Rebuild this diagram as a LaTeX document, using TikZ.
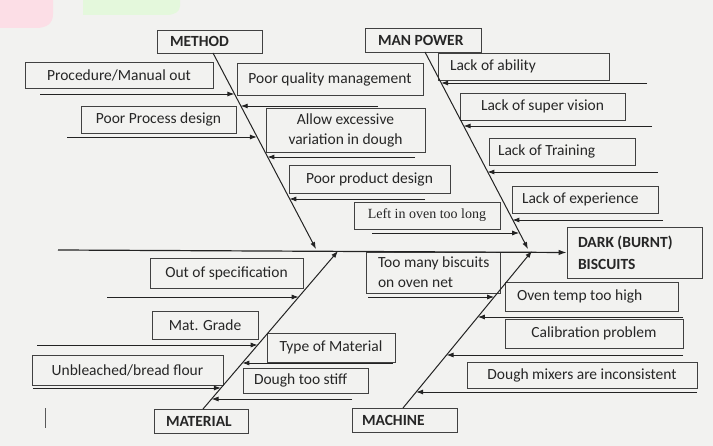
\documentclass[tikz,border=0pt]{standalone}
\usepackage{fontspec}
\setmainfont{Carlito}
\newfontfamily\serifnote{Liberation Serif}
\usetikzlibrary{arrows.meta}
\definecolor{paper}{RGB}{242,242,240}
\definecolor{inkline}{RGB}{35,35,35}
\definecolor{boxline}{RGB}{65,65,65}
\definecolor{pinkblob}{RGB}{252,222,230}
\definecolor{greenblob}{RGB}{228,248,220}
\begin{document}
\begin{tikzpicture}[x=1pt,y=-1pt,
  font=\fontsize{15.5}{20}\selectfont,
  cbox/.style={draw=boxline, line width=0.8pt, inner sep=0pt, align=center, text=black!85},
  lbox/.style={cbox, align=flush left},
  catbox/.style={cbox, align=flush left, font=\fontsize{15.5}{20}\selectfont\bfseries},
  bone/.style={draw=inkline, line width=1pt, -{Latex[length=7pt,width=5pt]}},
  cause/.style={draw=inkline, line width=0.9pt, -{Latex[length=7pt,width=5pt]}}]

% paper and margins
\fill[paper] (0,0) rectangle (713,446);
\useasboundingbox (0,0) rectangle (713,446);
\fill[pinkblob] (0,0) -- (53,0) -- (53,14) .. controls (53,24) and (46,28) .. (36,28) -- (0,28) -- cycle;
\fill[greenblob] (83,0) -- (180,0) -- (180,6) .. controls (180,12) and (174,15) .. (166,15) -- (83,15) -- cycle;

% category heads
\node[catbox, minimum width=105, minimum height=23, inner xsep=13pt, text width=79pt] (method) at (209.5,41.5) {METHOD};
\node[catbox, minimum width=116, minimum height=24, inner xsep=13pt, text width=90pt] (manpower) at (423,40) {MAN POWER};
\node[catbox, minimum width=94, minimum height=24, inner xsep=12pt, text width=70pt] (material) at (201,421) {MATERIAL};
\node[catbox, minimum width=105, minimum height=24, inner xsep=10pt, text width=85pt] (machine) at (404.5,420) {MACHINE};

% effect
\node[catbox, minimum width=135, minimum height=51, inner xsep=11pt, text width=113pt,
      font=\fontsize{15.5}{22}\selectfont\bfseries] (effect) at (634.5,252.5) {DARK (BURNT)\\BISCUITS};

% causes: method
\node[cbox, minimum width=188, minimum height=26] (proc) at (119,75) {Procedure/Manual out};
\node[cbox, minimum width=186, minimum height=32] (pqm) at (330,79) {Poor quality management};
\node[cbox, minimum width=155, minimum height=27] (ppd) at (158.5,119.5) {Poor Process design};
\node[cbox, minimum width=159, minimum height=44] (allow) at (345.5,130) {Allow excessive\\variation in dough};
\node[cbox, minimum width=161, minimum height=28] (prod) at (369.5,179) {Poor product design};
\node[cbox, minimum width=146, minimum height=27, font=\fontsize{14}{16}\serifnote] (oven) at (427,215.5) {Left in oven too long};

% causes: man power
\node[lbox, minimum width=171, minimum height=27, inner xsep=12pt, text width=147pt] (ability) at (523.5,66.5) {Lack of ability};
\node[cbox, minimum width=165, minimum height=27] (superv) at (542.5,106.5) {Lack of super vision};
\node[lbox, minimum width=146, minimum height=27, inner xsep=9pt, text width=128pt] (training) at (562,151.5) {Lack of Training};
\node[lbox, minimum width=146, minimum height=27, inner xsep=10pt, text width=126pt] (exper) at (585,199.5) {Lack of experience};

% causes: material
\node[cbox, minimum width=153, minimum height=30] (outspec) at (226.5,273) {Out of specification};
\node[cbox, minimum width=106, minimum height=28] (matgrade) at (205,325) {Mat. Grade};
\node[cbox, minimum width=128, minimum height=29] (typemat) at (331,347.5) {Type of Material};
\node[cbox, minimum width=191, minimum height=30] (unbl) at (127.5,370) {Unbleached/bread flour};
\node[lbox, minimum width=125, minimum height=25, inner xsep=11pt, text width=103pt] (stiff) at (305.5,380.5) {Dough too stiff};

% causes: machine
\node[lbox, minimum width=134, minimum height=41, inner xsep=12pt, text width=110pt] (many) at (433,272.5) {\mbox{Too many biscuits}\\on oven net};
\node[lbox, minimum width=173, minimum height=29, inner xsep=12pt, text width=149pt] (otemp) at (591.5,296.5) {Oven temp too high};
\node[cbox, minimum width=178, minimum height=29] (calib) at (594,333.5) {Calibration problem};
\node[cbox, minimum width=230, minimum height=26] (mixers) at (582,375) {Dough mixers are inconsistent};

% spine
\coordinate (tail) at (58,250);
\draw[draw=inkline, line width=1.2pt, -{Latex[length=8pt,width=5.5pt]}] (tail) -- (effect.west);

% bones
\coordinate (mA) at (213,53);   \coordinate (mB) at (316,249);
\coordinate (pA) at (425,52);   \coordinate (pB) at (528,249);
\coordinate (tA) at (203,409);  \coordinate (tB) at (338,251);
\coordinate (cA) at (403,408);  \coordinate (cB) at (532,251);
\draw[bone] (mA) -- (mB);
\draw[bone] (pA) -- (pB);
\draw[bone] (tA) -- (tB);
\draw[bone] (cA) -- (cB);

% cause arrows: method
\coordinate (s1) at (40,94);   \coordinate (e1) at (234.4,94);
\coordinate (s2) at (378,106); \coordinate (e2) at (240.7,106);
\coordinate (s3) at (67,137);  \coordinate (e3) at (256.9,137);
\coordinate (s4) at (415,157); \coordinate (e4) at (267.4,157);
\coordinate (s5) at (425,199); \coordinate (e5) at (289.3,199);
% cause arrows: man power
\coordinate (s6) at (647,83);  \coordinate (e6) at (441.1,83);
\coordinate (s7) at (652,126); \coordinate (e7) at (463.5,126);
\coordinate (s8) at (658,172); \coordinate (e8) at (487.4,172);
\coordinate (s9) at (663,220); \coordinate (e9) at (512.4,220);
\coordinate (s10) at (372,233); \coordinate (e10) at (519.2,233);
% cause arrows: material
\coordinate (s11) at (107,297); \coordinate (e11) at (298.7,297);
\coordinate (s12) at (37,345);  \coordinate (e12) at (257.7,345);
\coordinate (s13) at (393,363); \coordinate (e13) at (242.3,363);
\coordinate (s14) at (33,388);  \coordinate (e14) at (220.9,388);
\coordinate (s15) at (352,399); \coordinate (e15) at (211.5,399);
% cause arrows: machine
\coordinate (s16) at (368,297); \coordinate (e16) at (494.2,297);
\coordinate (s17) at (683,317); \coordinate (e17) at (477.8,317);
\coordinate (s18) at (683,355); \coordinate (e18) at (446.5,355);
\coordinate (s19) at (697,392); \coordinate (e19) at (416.1,392);

\foreach \i in {1,...,19} {\draw[cause] (s\i) -- (e\i);}

% stray pen mark
\coordinate (pm1) at (45,428); \coordinate (pm2) at (45,408);
\draw[draw=black!65, line width=0.8pt] (pm1) -- (pm2);
\end{tikzpicture}
\end{document}
